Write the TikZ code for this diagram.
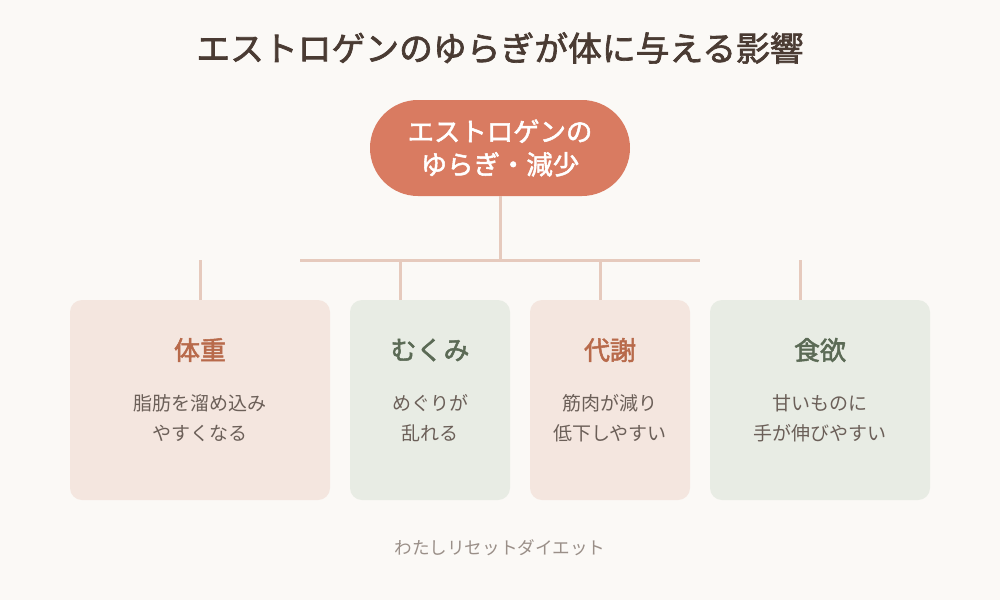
\documentclass[tikz,border=0pt]{standalone}
\usepackage{fontspec}
\setmainfont{Noto Sans CJK JP}
\newfontfamily\jpbold{Noto Sans CJK JP}[FakeBold=2]
\usepackage{tikz}
\usetikzlibrary{positioning}
\definecolor{bgcol}{HTML}{FBF9F6}
\definecolor{titlecol}{HTML}{4A3B33}
\definecolor{pillcol}{HTML}{D97B61}
\definecolor{linecol}{HTML}{E6CABD}
\definecolor{pinkbox}{HTML}{F4E6DF}
\definecolor{greenbox}{HTML}{E8ECE4}
\definecolor{orangetxt}{HTML}{B86A4B}
\definecolor{greentxt}{HTML}{5B6A55}
\definecolor{bodytxt}{HTML}{6B5F58}
\definecolor{foottxt}{HTML}{9A8F88}
\tikzset{
  box/.style={rounded corners=6pt, inner sep=0pt},
  branch/.style={draw=linecol, line width=1.5pt},
  head/.style={font=\jpbold\fontsize{13}{15}\selectfont},
  body/.style={font=\fontsize{9.5}{15}\selectfont, text=bodytxt, align=center}
}
\begin{document}
\begin{tikzpicture}[x=0.5pt,y=-0.5pt]
	\fill[bgcol] (0,0) rectangle (1000,600);
	\useasboundingbox (0,0) rectangle (1000,600);
	
	% title
	\node[font=\jpbold\fontsize{16.9}{18}\selectfont, text=titlecol] (title) at (500,48) {エストロゲンのゆらぎが体に与える影響};
	
	% top pill
	\node[fill=pillcol, rounded corners=24pt, minimum width=130pt, minimum height=48pt,
		text=white, align=center, font=\jpbold\fontsize{13.2}{16.5}\selectfont] (E) at (500,148) {エストロゲンの\\ゆらぎ・減少};
	
	\coordinate (J) at (500,260);
	\coordinate (L) at (300,260);
	\coordinate (R) at (700,260);
	\draw[branch] (E.south) -- (J);
	\draw[branch] (L) -- (R);
	
	% boxes
	\fill[pinkbox, box] (70,300) rectangle (330,500);
	\fill[greenbox, box] (350,300) rectangle (510,500);
	\fill[pinkbox, box] (530,300) rectangle (690,500);
	\fill[greenbox, box] (710,300) rectangle (930,500);
	
	\foreach \x/\n in {200/A, 400/B, 600/C, 800/D} {
		\coordinate (T\n) at (\x,260);
		\coordinate (B\n) at (\x,300);
		\draw[branch] (T\n) -- (B\n);
	}
	
	% labels
	\node[head, text=orangetxt] (h1) at (200,350) {体重};
	\node[head, text=greentxt]  (h2) at (430,350) {むくみ};
	\node[head, text=orangetxt] (h3) at (610,350) {代謝};
	\node[head, text=greentxt]  (h4) at (820,350) {食欲};
	
	\node[body] (t1) at (200,418) {脂肪を溜め込み\\やすくなる};
	\node[body] (t2) at (430,418) {めぐりが\\乱れる};
	\node[body] (t3) at (610,418) {筋肉が減り\\低下しやすい};
	\node[body] (t4) at (820,418) {甘いものに\\手が伸びやすい};
	
	% footer
	\node[font=\fontsize{8.8}{10}\selectfont, text=foottxt] (foot) at (500,548) {わたしリセットダイエット};
\end{tikzpicture}
\end{document}
